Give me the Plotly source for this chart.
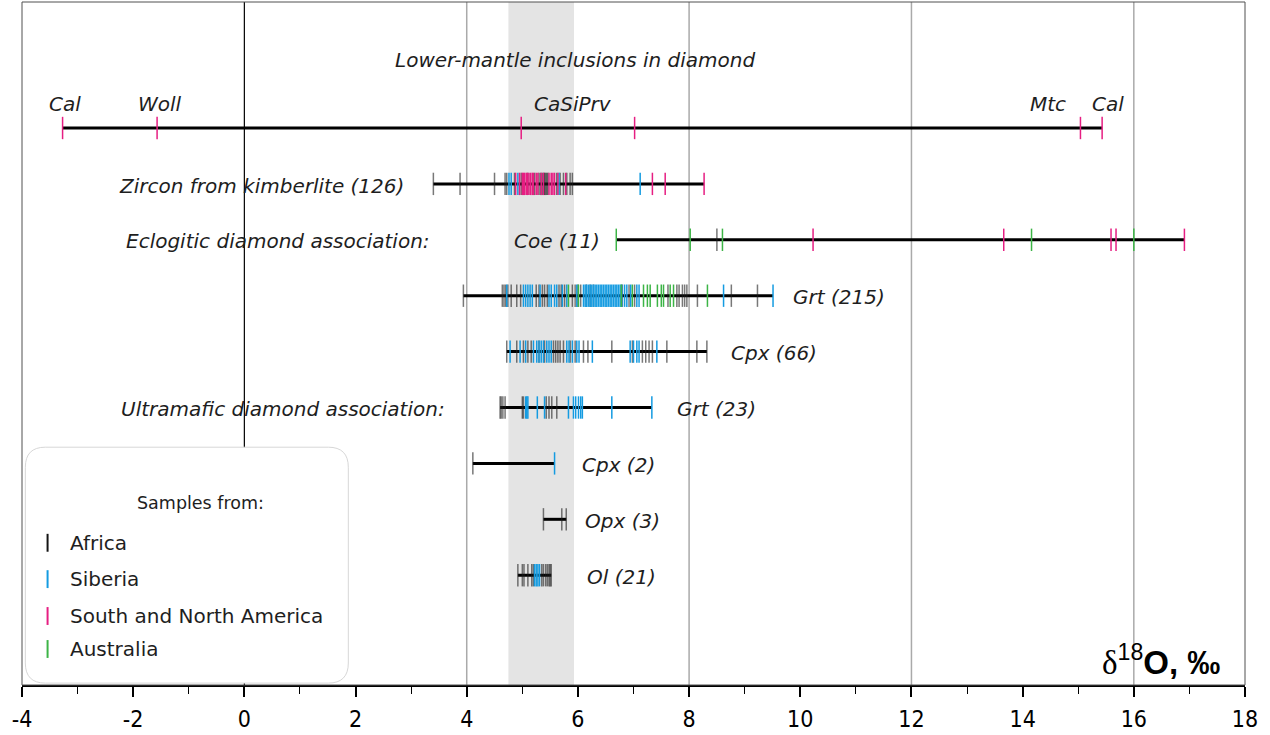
import plotly.graph_objects as go

# ---------------- data (d18O, permil) ----------------
rows = ["Lower mantle", "Zircon", "Coe", "Grt215", "Cpx66", "Grt23", "Cpx2", "Opx3", "Ol21"]

lm_pink = [-3.27, -1.57, 4.98, 7.02, 15.04, 15.43]

zr_black = [3.40, 3.88, 4.50, 4.69, 4.72, 4.86, 4.98, 5.10, 5.22, 5.30, 5.33, 5.36, 5.39,
            5.40, 5.42, 5.44, 5.46, 5.62, 5.68, 5.74, 5.80, 5.86, 5.90]
zr_blue = [4.76, 4.80, 4.92, 5.66, 7.12]
zr_pink = [4.88, 4.95, 5.00, 5.02, 5.04, 5.07, 5.09, 5.12, 5.15, 5.18, 5.20, 5.25, 5.28,
           5.34, 5.38, 5.48, 5.52, 5.55, 5.58, 5.64, 5.78, 7.34, 7.57, 8.27]

coe_black = [8.50]
coe_green = [6.69, 8.02, 8.60, 14.16, 16.00]
coe_pink = [10.23, 13.66, 15.59, 15.68, 16.91]

g215_black = [3.94, 4.64, 4.67, 4.70, 4.74, 4.80, 4.90, 4.97, 5.25, 5.30, 5.36, 5.40, 5.45,
              5.66, 5.70, 5.76, 5.90, 5.95, 6.00, 6.05, 6.15, 6.22, 6.28, 6.80, 6.92, 7.02,
              7.62, 7.78, 7.82, 7.88, 7.92, 7.96, 8.15, 8.76, 9.23]
g215_blue = [4.72, 5.02, 5.06, 5.10, 5.14, 5.18, 5.32, 5.48, 5.52, 5.58, 5.62, 5.72, 5.80,
             5.98, 6.10, 6.13, 6.16, 6.19, 6.22, 6.25, 6.28, 6.31, 6.34, 6.37, 6.40, 6.43,
             6.46, 6.49, 6.52, 6.55, 6.58, 6.61, 6.64, 6.67, 6.70, 6.73, 6.76, 6.79, 6.84,
             6.88, 6.95, 7.06, 7.10, 8.62, 9.51]
g215_green = [5.83, 6.01, 6.78, 6.98, 7.18, 7.25, 7.30, 7.43, 7.50, 7.54, 7.66, 7.72, 8.33]

c66_black = [4.72, 4.90, 5.02, 5.10, 5.16, 5.30, 5.40, 5.56, 5.60, 5.64, 5.68, 5.74, 5.86,
             5.95, 6.10, 6.18, 6.61, 6.98, 7.16, 7.22, 7.28, 7.34, 7.60, 8.14, 8.32]
c66_blue = [4.78, 4.96, 5.06, 5.20, 5.26, 5.30, 5.34, 5.38, 5.44, 5.48, 5.52, 5.80, 5.84,
            5.90, 5.98, 6.02, 6.26, 6.94, 7.00, 7.06, 7.10, 7.42]

g23_black = [4.60, 4.62, 4.65, 4.69, 5.00, 5.02, 5.43, 5.48, 5.53, 5.62]
g23_blue = [5.06, 5.08, 5.10, 5.27, 5.40, 5.83, 5.92, 5.96, 6.01, 6.05, 6.08, 6.61, 7.33]

c2_black = [4.11]
c2_blue = [5.58]

opx_black = [5.38, 5.71, 5.79]

ol_black = [4.92, 5.00, 5.03, 5.10, 5.17, 5.20, 5.35, 5.38, 5.42, 5.45, 5.48, 5.50, 5.52]
ol_blue = [5.22, 5.25, 5.28, 5.31]

band = [4.75, 5.93]
grid_x = [4, 8, 12, 16]
tick_vals = [-4, -2, 0, 2, 4, 6, 8, 10, 12, 14, 16, 18]
tick_text = ["-4", "-2", "0", "2", "4", "6", "8", "10", "12", "14", "16", "18"]

# row index -> {colour: values}
row_data = [
    {"pink": lm_pink},
    {"black": zr_black, "blue": zr_blue, "pink": zr_pink},
    {"black": coe_black, "green": coe_green, "pink": coe_pink},
    {"black": g215_black, "blue": g215_blue, "green": g215_green},
    {"black": c66_black, "blue": c66_blue},
    {"black": g23_black, "blue": g23_blue},
    {"black": c2_black, "blue": c2_blue},
    {"black": opx_black},
    {"black": ol_black, "blue": ol_blue},
]

COL = {
    "black": "rgba(30,30,30,0.6)",
    "blue": "rgb(20,155,225)",
    "pink": "rgb(230,30,130)",
    "green": "rgb(60,180,70)",
}
FONT = "DejaVu Sans, Liberation Sans, Arial, sans-serif"
H = 0.2  # half tick height (rows)

fig = go.Figure()

# range lines
for i, d in enumerate(row_data):
    vals = [v for lst in d.values() for v in lst]
    fig.add_trace(go.Scatter(x=[min(vals), max(vals)], y=[i, i], mode="lines",
                             line=dict(color="black", width=3), hoverinfo="skip",
                             showlegend=False))

# ticks
for cname in ["black", "blue", "pink", "green"]:
    xs, ys = [], []
    for i, d in enumerate(row_data):
        for v in d.get(cname, []):
            xs += [v, v, None]
            ys += [i - H, i + H, None]
    fig.add_trace(go.Scatter(x=xs, y=ys, mode="lines",
                             line=dict(color=COL[cname], width=1.5),
                             hoverinfo="skip", showlegend=False))

shapes = []
shapes.append(dict(type="rect", xref="x", yref="paper", x0=band[0], x1=band[1], y0=0, y1=1,
                   fillcolor="rgb(228,228,228)", line=dict(width=0), layer="below"))
for gx in grid_x:
    shapes.append(dict(type="line", xref="x", yref="paper", x0=gx, x1=gx, y0=0, y1=1,
                       line=dict(color="rgb(170,170,170)", width=1.5), layer="below"))
shapes.append(dict(type="line", xref="x", yref="paper", x0=0, x1=0, y0=0, y1=1,
                   line=dict(color="black", width=1.2), layer="below"))
# frame
shapes.append(dict(type="rect", xref="paper", yref="paper", x0=0, x1=1, y0=0, y1=1,
                   line=dict(color="rgb(80,80,80)", width=1), layer="above"))

# legend box (rounded)
x0, x1, y0, y1, r = -3.94, 1.87, 5.71, 9.93, 0.36
path = (f"M {x0+r},{y0} L {x1-r},{y0} Q {x1},{y0} {x1},{y0+r} L {x1},{y1-r} "
        f"Q {x1},{y1} {x1-r},{y1} L {x0+r},{y1} Q {x0},{y1} {x0},{y1-r} "
        f"L {x0},{y0+r} Q {x0},{y0} {x0+r},{y0} Z")
shapes.append(dict(type="path", xref="x", yref="y", path=path, fillcolor="white",
                   line=dict(color="rgb(215,215,215)", width=1), layer="above"))

legend_items = [("Africa", "black", 7.42), ("Siberia", "blue", 8.07),
                ("South and North America", "pink", 8.73), ("Australia", "green", 9.32)]
leg_col = {"black": "rgb(20,20,20)", "blue": COL["blue"], "pink": COL["pink"], "green": COL["green"]}
for name, c, yy in legend_items:
    shapes.append(dict(type="line", xref="x", yref="y", x0=-3.54, x1=-3.54, y0=yy - 0.16,
                       y1=yy + 0.16, line=dict(color=leg_col[c], width=2), layer="above"))

ann = []

def add_text(text, x, y, xanchor="center", italic=True, size=20):
    ann.append(dict(text=(f"<i>{text}</i>" if italic else text), x=x, y=y, xref="x", yref="y",
                    xanchor=xanchor, yanchor="middle", showarrow=False,
                    font=dict(family=FONT, size=size, color="rgb(30,30,30)")))

add_text("Lower-mantle inclusions in diamond", 5.94, -1.22)
add_text("Cal", -3.22, -0.43)
add_text("Woll", -1.51, -0.43)
add_text("CaSiPrv", 5.92, -0.43)
add_text("Mtc", 14.46, -0.43)
add_text("Cal", 15.54, -0.43)
add_text("Zircon from kimberlite (126)", 2.90, 1.03, "right")
add_text("Eclogitic diamond association:", 3.38, 2.03, "right")
add_text("Coe (11)", 6.43, 2.03, "right")
add_text("Grt (215)", 9.83, 3.03, "left")
add_text("Cpx (66)", 8.72, 4.03, "left")
add_text("Ultramafic diamond association:", 3.65, 5.03, "right")
add_text("Grt (23)", 7.75, 5.03, "left")
add_text("Cpx (2)", 6.04, 6.03, "left")
add_text("Opx (3)", 6.09, 7.03, "left")
add_text("Ol (21)", 6.13, 8.03, "left")

add_text("Samples from:", -0.79, 6.71, italic=False, size=17.5)
for name, c, yy in legend_items:
    add_text(name, -3.17, yy, "left", italic=False, size=20)

ann.append(dict(text="<span style='font-family:Liberation Serif'>δ</span><sup>18</sup><b>O, ‰</b>",
                x=17.59, y=9.52, xref="x", yref="y", xanchor="right", yanchor="middle",
                showarrow=False, font=dict(family="Liberation Sans, Arial, sans-serif", size=33,
                                           color="black")))

fig.update_layout(
    width=1270, height=735,
    margin=dict(l=22, r=25, t=2, b=50),
    paper_bgcolor="white", plot_bgcolor="white",
    shapes=shapes, annotations=ann, showlegend=False,
    xaxis=dict(range=[-4, 18], tickmode="array", tickvals=tick_vals, ticktext=tick_text,
               showgrid=False, zeroline=False,
               showline=True, linecolor="black", linewidth=2, ticks="outside",
               ticklen=10, tickwidth=1.5, tickcolor="black",
               minor=dict(dtick=1, tick0=-4, ticks="outside", ticklen=7, tickwidth=1,
                          tickcolor="black"),
               tickfont=dict(family="DejaVu Sans Condensed, Liberation Sans Narrow, Liberation Sans, sans-serif",
                             size=23, color="black"),
               ticklabelstandoff=2, fixedrange=True, automargin=False),
    yaxis=dict(range=[9.964, -2.254], showgrid=False, zeroline=False, showticklabels=False,
               showline=False, fixedrange=True),
)

fig.write_html("out.html", config={"displayModeBar": False},
               post_script="document.body.style.margin='0';")
